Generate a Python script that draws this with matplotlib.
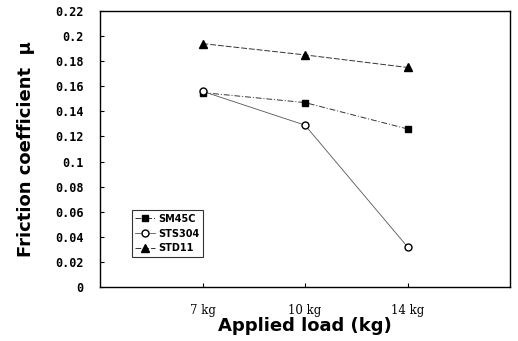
import numpy as np
import matplotlib.pyplot as plt

loads = ['7 kg', '10 kg', '14 kg']
sm45c = [0.155, 0.147, 0.126]
sts304 = [0.156, 0.129, 0.032]
std11 = [0.194, 0.185, 0.175]
yticks = [0, 0.02, 0.04, 0.06, 0.08, 0.1, 0.12, 0.14, 0.16, 0.18, 0.2, 0.22]
ytick_labels = ['0', '0.02', '0.04', '0.06', '0.08', '0.1', '0.12', '0.14',
                '0.16', '0.18', '0.2', '0.22']

fig = plt.figure(figsize=(5.18, 3.41), dpi=100)
ax = fig.add_axes([100/518, 1-287/341, 410/518, 276/341])

x = np.arange(1, len(loads)+1)
ax.plot(x, sm45c, color='#333333', lw=0.7, ls=(0, (6, 2, 1, 2)), marker='s', ms=4.5,
        mfc='black', mec='black', label='SM45C')
ax.plot(x, sts304, color='#555555', lw=0.6, ls='-', marker='o', ms=5,
        mfc='white', mec='black', label='STS304')
ax.plot(x, std11, color='#333333', lw=0.7, ls=(0, (6, 2)), marker='^', ms=5.5,
        mfc='black', mec='black', label='STD11')

ax.set_xlim(0, 4)
ax.set_ylim(0, 0.22)
ax.set_xticks(x)
ax.set_xticklabels(loads, fontsize=8.5, family='DejaVu Serif')
ax.set_yticks(yticks)
ax.set_yticklabels(ytick_labels, fontsize=8.5, family='DejaVu Sans Mono', fontweight='bold')
ax.tick_params(axis='x', direction='in', length=3, width=0.8, pad=12)
ax.tick_params(axis='y', direction='in', length=3, width=0.8, pad=12)
for s in ax.spines.values():
    s.set_linewidth(1.0)

ax.set_xlabel('Applied load (kg)', fontsize=13, fontweight='bold', labelpad=0)
ax.set_ylabel('Friction coefficient  \u03bc', fontsize=13, fontweight='bold', labelpad=14)

leg = ax.legend(loc='lower left', bbox_to_anchor=(0.065, 0.09),
                prop={'weight': 'bold', 'size': 7}, frameon=True, fancybox=False,
                edgecolor='black', handlelength=2.0, borderpad=0.4, labelspacing=0.5,
                handletextpad=0.3)
leg.get_frame().set_linewidth(0.8)

fig.savefig('out.png', dpi=100)
